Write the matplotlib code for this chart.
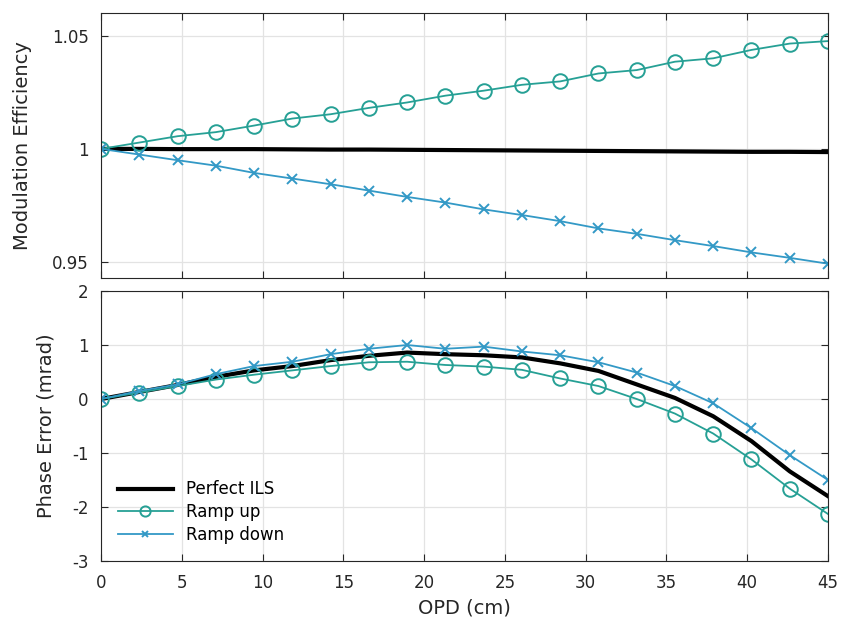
import numpy as np
import matplotlib
matplotlib.use("Agg")
import matplotlib.pyplot as plt

opd = np.linspace(0, 45, 20)

# modulation efficiency
eff_perfect = [1.0, 1.0, 0.9999, 0.9999, 0.9999, 0.9998, 0.9997, 0.9997, 0.9996, 0.9995,
               0.9994, 0.9993, 0.9992, 0.9991, 0.9990, 0.9989, 0.9988, 0.9987, 0.9987, 0.9986]
eff_up = [1.0, 1.0028, 1.0056, 1.0074, 1.0103, 1.0134, 1.0153, 1.0181, 1.0205, 1.0235,
          1.0257, 1.0283, 1.0298, 1.0333, 1.0348, 1.0385, 1.0400, 1.0437, 1.0465, 1.0476]
eff_down = [1.0, 0.9975, 0.9950, 0.9926, 0.9894, 0.9869, 0.9844, 0.9816, 0.9788, 0.9763,
            0.9733, 0.9708, 0.9681, 0.9649, 0.9625, 0.9597, 0.9571, 0.9543, 0.9519, 0.9493]

# phase error (mrad)
ph_perfect = [0.0, 0.13, 0.26, 0.41, 0.53, 0.61, 0.72, 0.80, 0.86, 0.83,
              0.81, 0.77, 0.66, 0.52, 0.27, 0.02, -0.32, -0.78, -1.34, -1.80]
ph_up = [0.0, 0.12, 0.24, 0.36, 0.45, 0.53, 0.61, 0.68, 0.69, 0.63,
         0.60, 0.54, 0.38, 0.24, 0.0, -0.27, -0.64, -1.12, -1.66, -2.13]
ph_down = [0.0, 0.15, 0.27, 0.46, 0.61, 0.69, 0.83, 0.93, 1.0, 0.93,
           0.97, 0.88, 0.81, 0.68, 0.49, 0.24, -0.08, -0.54, -1.04, -1.50]

c_up = '#26a095'
c_down = '#3399c6'

plt.rcParams['font.family'] = 'DejaVu Sans'
plt.rcParams['font.size'] = 12
plt.rcParams['axes.unicode_minus'] = False

fig = plt.figure(figsize=(8.42, 6.25), dpi=100)
ax1 = fig.add_axes([0.12, 0.5552, 0.8634, 0.424])
ax2 = fig.add_axes([0.12, 0.1024, 0.8634, 0.432])

def style(ax):
    ax.grid(True, color='#e3e3e3', linewidth=0.9)
    ax.set_axisbelow(True)
    ax.tick_params(direction='in', top=True, right=True, length=5, colors='#262626',
                   labelcolor='#262626', labelsize=12, pad=9)
    for s in ax.spines.values():
        s.set_color('#262626')
        s.set_linewidth(0.8)
    ax.set_xlim(0, 45)
    ax.set_xticks(np.arange(0, 46, 5))

ax1.plot(opd, eff_perfect, color='k', lw=3)
ax1.plot(opd, eff_up, color=c_up, lw=1.3, marker='o', ms=10.5, mfc='none', mew=1.4)
ax1.plot(opd, eff_down, color=c_down, lw=1.3, marker='x', ms=7, mew=1.4)
style(ax1)
ax1.set_ylim(0.943, 1.06)
ax1.set_yticks([0.95, 1.0, 1.05])
ax1.set_yticklabels(['0.95', '1', '1.05'])
ax1.tick_params(labelbottom=False)
ax1.set_ylabel('Modulation Efficiency', fontsize=14, color='#262626', labelpad=14)

ax2.plot(opd, ph_perfect, color='k', lw=3, label='Perfect ILS')
ax2.plot(opd, ph_up, color=c_up, lw=1.3, marker='o', ms=10.5, mfc='none', mew=1.4, label='Ramp up')
ax2.plot(opd, ph_down, color=c_down, lw=1.3, marker='x', ms=7, mew=1.4, label='Ramp down')
style(ax2)
ax2.set_ylim(-3, 2)
ax2.set_yticks([-3, -2, -1, 0, 1, 2])
ax2.set_ylabel('Phase Error (mrad)', fontsize=14, color='#262626', labelpad=12)
ax2.set_xlabel('OPD (cm)', fontsize=14, color='#262626', labelpad=5)
ax2.legend(loc='lower left', frameon=False, fontsize=12, markerscale=0.7,
           handlelength=3.3, borderaxespad=0.6, labelspacing=0.3)

fig.savefig('out.png', dpi=100)
